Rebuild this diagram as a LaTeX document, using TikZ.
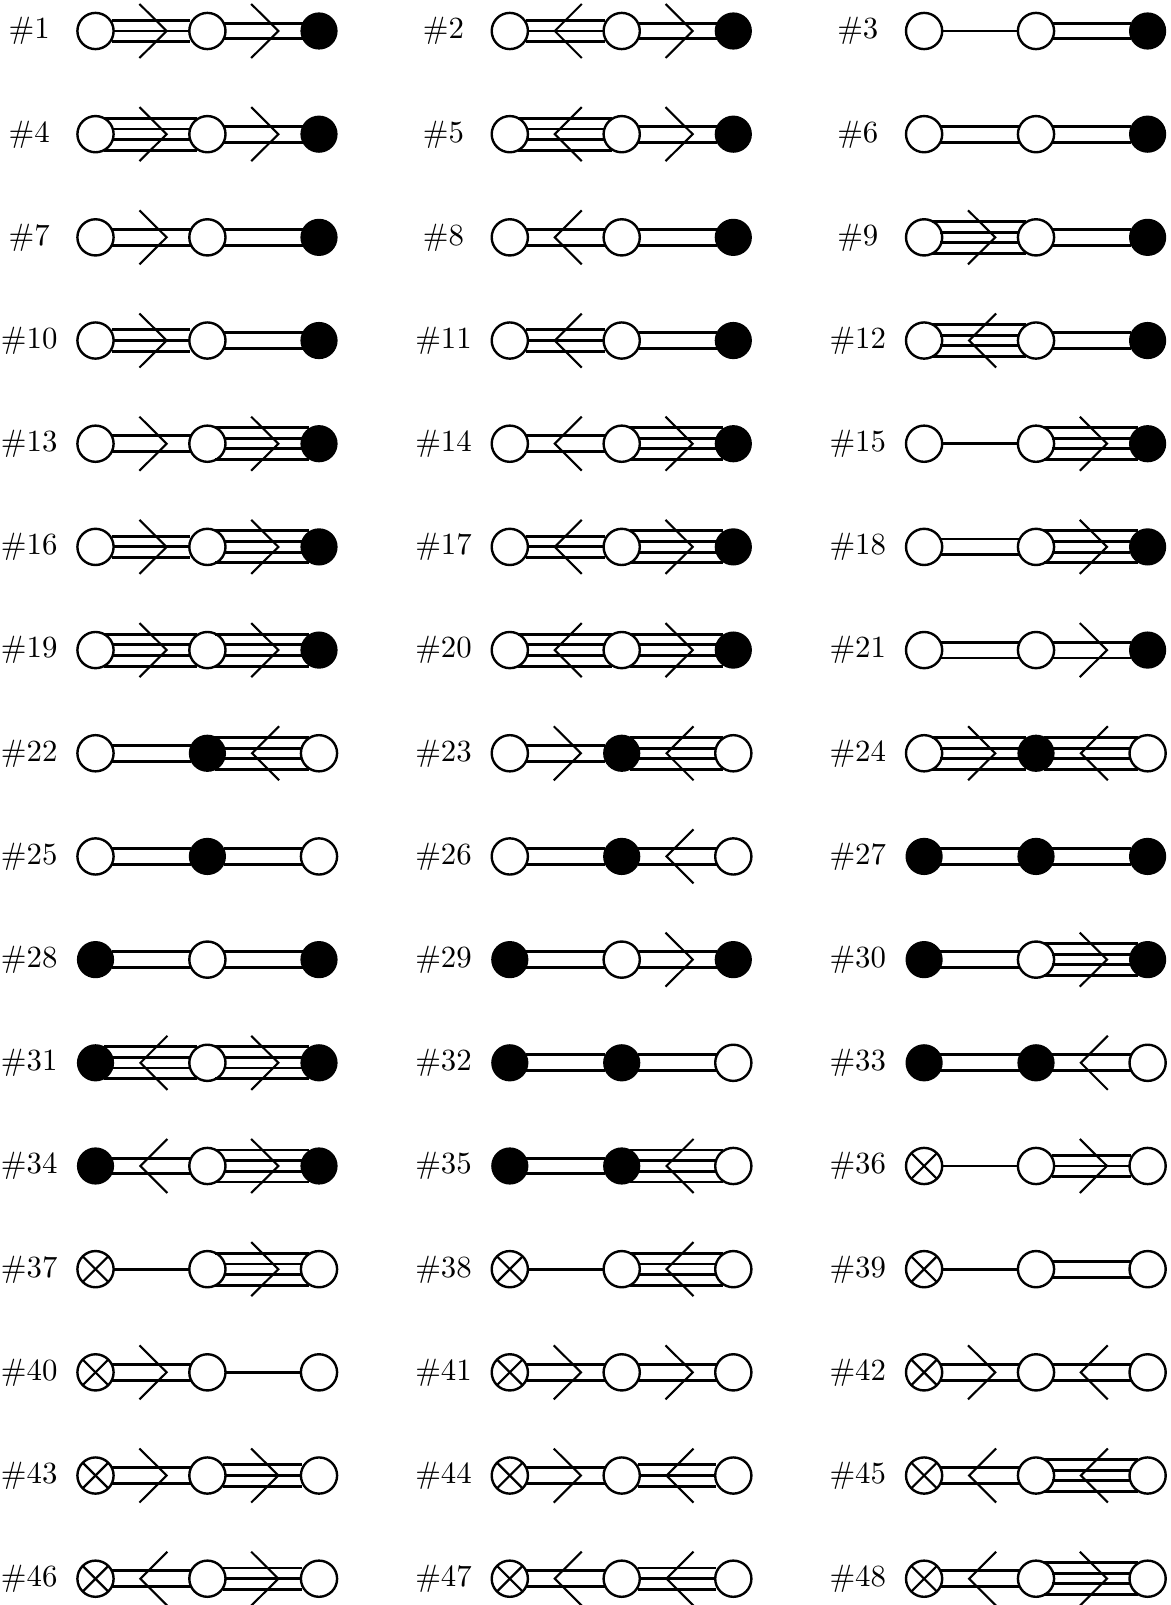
\documentclass[tikz,border=0pt]{standalone}
\usetikzlibrary{calc}
\tikzset{
  wn/.style={circle,draw=black,fill=white,line width=2.4pt,minimum size=36.2pt,inner sep=0pt,outer sep=0pt},
  bn/.style={circle,fill=black,minimum size=37.2pt,inner sep=0pt,outer sep=0pt},
  xn/.style={wn,path picture={
    \draw[line width=2.2pt] (path picture bounding box.north west) -- (path picture bounding box.south east);
    \draw[line width=2.2pt] (path picture bounding box.north east) -- (path picture bounding box.south west);}},
  bondline/.style={line width=2.9pt,line cap=butt},
  chevron/.style={line width=2.1pt,line join=miter},
  lab/.style={scale=3.08,inner sep=0pt,text=black}
}
% #1,#2 end nodes; #3 gap at start; #4 gap at end; #5 vertical offset
\newcommand{\bl}[5]{\draw[bondline] ($(#1)+(#3,#5)$) -- ($(#2)+(-#4,#5)$);}
\newcommand{\bonds}[2]{\bl{#1}{#2}{18.5}{18.5}{0}}
\newcommand{\bondd}[2]{\bl{#1}{#2}{16.2}{16.5}{7.9}\bl{#1}{#2}{16.2}{16.5}{-7.9}}
\newcommand{\bondt}[2]{\bl{#1}{#2}{16}{17}{10.7}\bl{#1}{#2}{18}{18}{0}\bl{#1}{#2}{16}{17}{-10.7}}
\newcommand{\bondq}[2]{\bl{#1}{#2}{8}{10}{16}\bl{#1}{#2}{16.2}{17.3}{5.2}\bl{#1}{#2}{16.2}{17.3}{-5.2}\bl{#1}{#2}{8}{10}{-16}}
\newcommand{\arrr}[2]{\draw[chevron] ($(#1)!.5!(#2)+(-12,27)$) -- ($(#1)!.5!(#2)+(15.2,0)$) -- ($(#1)!.5!(#2)+(-12,-27)$);}
\newcommand{\arrl}[2]{\draw[chevron] ($(#1)!.5!(#2)+(16,27)$) -- ($(#1)!.5!(#2)+(-11,0)$) -- ($(#1)!.5!(#2)+(16,-27)$);}
\newcommand{\arrn}[2]{}
\begin{document}
\begin{tikzpicture}[x=1pt,y=1pt]
\useasboundingbox (0,0) rectangle (1170,-1605);
\foreach \nn/\A/\B/\C/\ka/\da/\kb/\db in {
1/wn/wn/bn/t/r/d/r, 2/wn/wn/bn/t/l/d/r, 3/wn/wn/bn/s/n/d/n,
4/wn/wn/bn/q/r/d/r, 5/wn/wn/bn/q/l/d/r, 6/wn/wn/bn/d/n/d/n,
7/wn/wn/bn/d/r/d/n, 8/wn/wn/bn/d/l/d/n, 9/wn/wn/bn/q/r/d/n,
10/wn/wn/bn/t/r/d/n, 11/wn/wn/bn/t/l/d/n, 12/wn/wn/bn/q/l/d/n,
13/wn/wn/bn/d/r/q/r, 14/wn/wn/bn/d/l/q/r, 15/wn/wn/bn/s/n/q/r,
16/wn/wn/bn/t/r/q/r, 17/wn/wn/bn/t/l/q/r, 18/wn/wn/bn/d/n/q/r,
19/wn/wn/bn/q/r/q/r, 20/wn/wn/bn/q/l/q/r, 21/wn/wn/bn/d/n/d/r,
22/wn/bn/wn/d/n/q/l, 23/wn/bn/wn/d/r/q/l, 24/wn/bn/wn/q/r/q/l,
25/wn/bn/wn/d/n/d/n, 26/wn/bn/wn/d/n/d/l, 27/bn/bn/bn/d/n/d/n,
28/bn/wn/bn/d/n/d/n, 29/bn/wn/bn/d/n/d/r, 30/bn/wn/bn/d/n/q/r,
31/bn/wn/bn/q/l/q/r, 32/bn/bn/wn/d/n/d/n, 33/bn/bn/wn/d/n/d/l,
34/bn/wn/bn/d/l/q/r, 35/bn/bn/wn/d/n/q/l, 36/xn/wn/wn/s/n/t/r,
37/xn/wn/wn/s/n/q/r, 38/xn/wn/wn/s/n/q/l, 39/xn/wn/wn/s/n/d/n,
40/xn/wn/wn/d/r/s/n, 41/xn/wn/wn/d/r/d/r, 42/xn/wn/wn/d/r/d/l,
43/xn/wn/wn/d/r/t/r, 44/xn/wn/wn/d/r/t/l, 45/xn/wn/wn/d/l/q/l,
46/xn/wn/wn/d/l/t/r, 47/xn/wn/wn/d/l/t/l, 48/xn/wn/wn/d/l/q/r}
{
  \pgfmathtruncatemacro{\col}{mod(\nn-1,3)}
  \pgfmathtruncatemacro{\row}{(\nn-1)/3}
  \pgfmathsetmacro{\xa}{95.5+414.3*\col}
  \pgfmathsetmacro{\yy}{-31-103.18*\row}
  \node[lab] (t\nn) at (\xa-66.3,\yy-0.2) {\#\nn};
  \node[\A] (a\nn) at (\xa,\yy) {};
  \node[\B] (b\nn) at (\xa+111.9,\yy) {};
  \node[\C] (c\nn) at (\xa+223.5,\yy) {};
  \csname bond\ka\endcsname{a\nn}{b\nn}
  \csname bond\kb\endcsname{b\nn}{c\nn}
  \csname arr\da\endcsname{a\nn}{b\nn}
  \csname arr\db\endcsname{b\nn}{c\nn}
}
\end{tikzpicture}
\end{document}
